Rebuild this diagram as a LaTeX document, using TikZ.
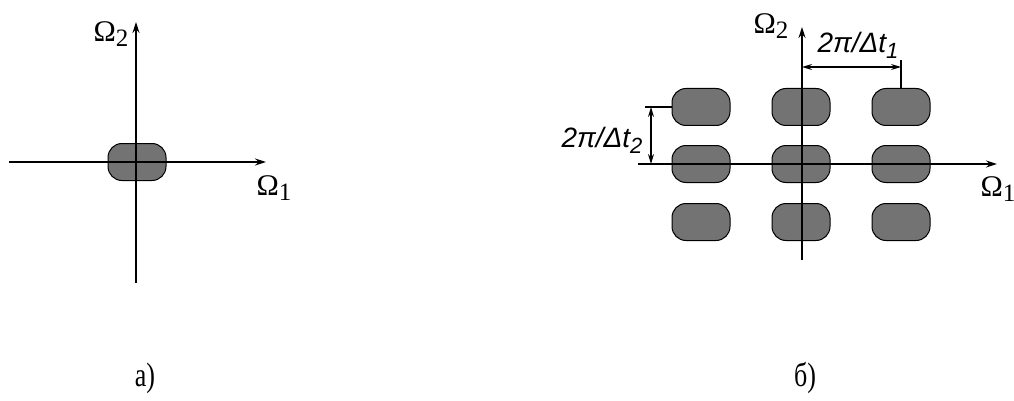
\documentclass[tikz,border=0pt]{standalone}
\usepackage{fontspec}
\setmainfont{Liberation Serif}
\newfontfamily\dimfont{Liberation Sans}
\usetikzlibrary{arrows.meta}
\newcommand{\OmLab}[1]{Ω\raisebox{-0.4ex}{\fontsize{25}{25}\selectfont #1}}
\newcommand{\DimLab}[1]{{\dimfont\itshape 2π/Δt\raisebox{-0.4ex}{\fontsize{22}{22}\selectfont #1}}}
\begin{document}
\begin{tikzpicture}[x=1pt,y=-1pt,
  blob/.style={draw=black, line width=1pt, fill=black!55, rounded corners=14pt,
    minimum width=58pt, minimum height=37pt, inner sep=0pt},
  axis/.style={line width=1.2pt, -{Stealth[length=11pt,width=7pt]}},
  dim/.style={line width=1.2pt, {Stealth[length=10pt,width=6pt]}-{Stealth[length=10pt,width=6pt]}},
  ext/.style={line width=1.2pt},
  lbl/.style={font=\fontsize{30}{30}\selectfont, inner sep=0pt},
  dlbl/.style={font=\fontsize{28}{28}\selectfont, inner sep=0pt},
  captxt/.style={font=\fontsize{26}{26}\selectfont, inner sep=0pt}]
\useasboundingbox (0,0) rectangle (1014,401);
% ---- a)
\node[blob] (a0) at (137,162) {};
\coordinate (aL) at (9,162);
\coordinate (aR) at (266,162);
\coordinate (aB) at (136,283);
\coordinate (aT) at (136,22);
\draw[axis] (aL) -- (aR);
\draw[axis] (aB) -- (aT);
\node[lbl] (aO2) at (111,34) {\OmLab{2}};
\node[lbl] (aO1) at (274,188) {\OmLab{1}};
\node[captxt] (capa) at (145,378) {\scalebox{1}[1.3]{а)}};
% ---- b)
\foreach \r/\y in {1/107,2/164,3/222}{
  \foreach \c/\x in {1/701,2/801,3/901}{
    \node[blob] (b\r\c) at (\x,\y) {};
  }
}
\coordinate (bL) at (638,164);
\coordinate (bR) at (997,164);
\coordinate (bB) at (802,260);
\coordinate (bT) at (802,27);
\draw[axis] (bL) -- (bR);
\draw[axis] (bB) -- (bT);
\node[lbl] (bO2) at (771,26) {\OmLab{2}};
\node[lbl] (bO1) at (998,189) {\OmLab{1}};
% top dimension
\coordinate (d1a) at (802,67);
\coordinate (d1b) at (901,67);
\coordinate (e1) at (901,60);
\draw[ext] (b13.north) -- (e1);
\draw[dim] (d1a) -- (d1b);
\node[dlbl] (t1) at (858,45) {\DimLab{1}};
% left dimension
\coordinate (e2) at (645,107);
\coordinate (d2a) at (651,107);
\coordinate (d2b) at (651,164);
\draw[ext] (b11.west) -- (e2);
\draw[dim] (d2a) -- (d2b);
\node[dlbl] (t2) at (602,140) {\DimLab{2}};
\node[captxt] (capb) at (805,378) {\scalebox{1}[1.3]{б)}};
\end{tikzpicture}
\end{document}
